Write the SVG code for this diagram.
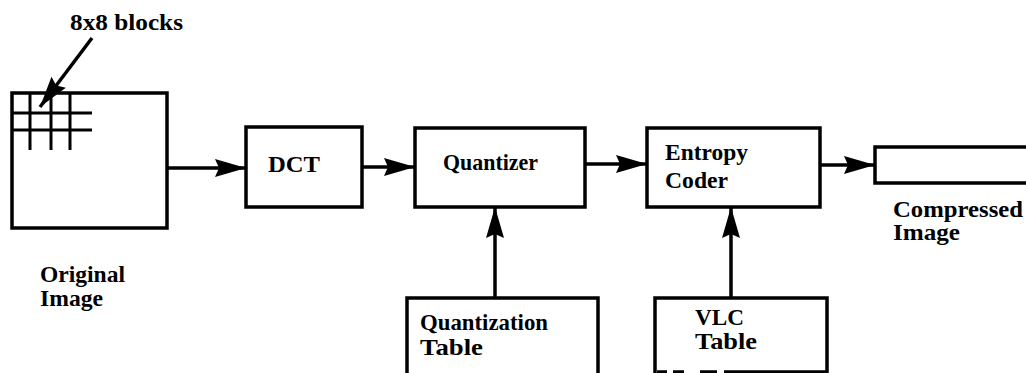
<svg xmlns="http://www.w3.org/2000/svg" width="1026" height="373" viewBox="0 0 1026 373">
  <style>
    .box { fill: #fff; stroke: #000; stroke-width: 3.5; }
    .edge { fill: none; stroke: #000; stroke-width: 3.5; }
    .grid { stroke: #000; stroke-width: 3; }
    .lbl { font-family: "Liberation Serif", "Times New Roman", serif; font-weight: bold; font-size: 23px; fill: #000; }
  </style>
  <defs>
    <marker id="head" markerUnits="userSpaceOnUse" markerWidth="34" markerHeight="20" refX="31" refY="10" orient="auto">
      <path d="M0,1 L31,10 L0,19 L4,10 Z" fill="#000"/>
    </marker>
  </defs>
  <rect width="1026" height="373" fill="#fff"/>

  <!-- source image with its block grid -->
  <g id="original-image">
    <rect class="box" x="12" y="93" width="155" height="135"/>
    <line class="grid" x1="30" y1="93" x2="30" y2="150"/>
    <line class="grid" x1="51" y1="93" x2="51" y2="150"/>
    <line class="grid" x1="70" y1="93" x2="70" y2="150"/>
    <line class="grid" x1="12" y1="113" x2="92" y2="113"/>
    <line class="grid" x1="12" y1="130" x2="92" y2="130"/>
    <text class="lbl"><tspan x="40" y="282" textLength="85" lengthAdjust="spacingAndGlyphs">Original</tspan><tspan x="40" y="306" textLength="63" lengthAdjust="spacingAndGlyphs">Image</tspan></text>
  </g>

  <g id="blocks-label">
    <text class="lbl" x="70" y="30" font-size="24" textLength="113" lengthAdjust="spacingAndGlyphs">8x8 blocks</text>
  </g>

  <g id="dct">
    <rect class="box" x="246" y="127" width="116" height="80"/>
    <text class="lbl" x="268" y="172" textLength="52" lengthAdjust="spacingAndGlyphs">DCT</text>
  </g>

  <g id="quantizer">
    <rect class="box" x="415" y="128" width="170" height="79"/>
    <text class="lbl" x="443" y="170" textLength="95" lengthAdjust="spacingAndGlyphs">Quantizer</text>
  </g>

  <g id="entropy-coder">
    <rect class="box" x="647" y="128" width="173" height="79"/>
    <text class="lbl"><tspan x="665" y="160" textLength="83" lengthAdjust="spacingAndGlyphs">Entropy</tspan><tspan x="665" y="188" textLength="63" lengthAdjust="spacingAndGlyphs">Coder</tspan></text>
  </g>

  <g id="compressed-image">
    <rect class="box" x="875" y="147" width="160" height="36"/>
    <text class="lbl"><tspan x="893" y="217" textLength="130" lengthAdjust="spacingAndGlyphs">Compressed</tspan><tspan x="893" y="240" textLength="67" lengthAdjust="spacingAndGlyphs">Image</tspan></text>
  </g>

  <g id="quantization-table">
    <path class="edge" d="M407,380 L407,298 L598,298 L598,380"/>
    <text class="lbl"><tspan x="420" y="330" textLength="128" lengthAdjust="spacingAndGlyphs">Quantization</tspan><tspan x="420" y="355" textLength="63" lengthAdjust="spacingAndGlyphs">Table</tspan></text>
  </g>

  <g id="vlc-table">
    <path class="edge" d="M655,380 L655,298 L827,298 L827,380"/>
    <path class="edge" d="M657,372 H667 M673,372 H684 M700,372 H717 M724,372 H827"/>
    <text class="lbl"><tspan x="695" y="325" textLength="49" lengthAdjust="spacingAndGlyphs">VLC</tspan><tspan x="695" y="349" textLength="62" lengthAdjust="spacingAndGlyphs">Table</tspan></text>
  </g>

  <!-- connectors -->
  <g id="connectors">
    <line class="edge" x1="92" y1="38" x2="40" y2="107" marker-end="url(#head)"/>
    <line class="edge" x1="167" y1="168" x2="246" y2="168" marker-end="url(#head)"/>
    <line class="edge" x1="362" y1="167" x2="415" y2="167" marker-end="url(#head)"/>
    <line class="edge" x1="585" y1="164" x2="647" y2="164" marker-end="url(#head)"/>
    <line class="edge" x1="820" y1="165" x2="875" y2="165" marker-end="url(#head)"/>
    <line class="edge" x1="495" y1="298" x2="495" y2="207" marker-end="url(#head)"/>
    <line class="edge" x1="731" y1="298" x2="731" y2="207" marker-end="url(#head)"/>
  </g>
</svg>
